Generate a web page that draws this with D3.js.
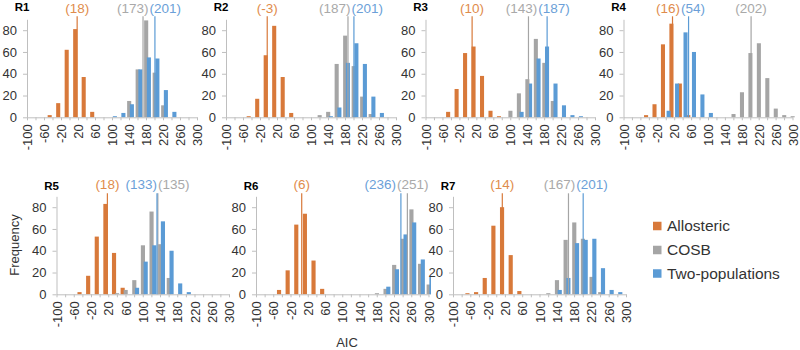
<!DOCTYPE html>
<html>
<head>
<meta charset="utf-8">
<script src="https://cdn.jsdelivr.net/npm/d3@7"></script>
<style>
    body { margin: 0; background: #fff; }
    svg text { font-family: "Liberation Sans", Arial, sans-serif; }
</style>
</head>
<body>
<div id="chart"></div>
<script>
// bins of the AIC histograms (bin centres)
let categories = [-100, -80, -60, -40, -20, 0, 20, 40, 60, 80, 100, 120, 140, 160, 180, 200, 220, 240, 260, 280, 300];
let xTickLabels = [-100, -60, -20, 20, 60, 100, 140, 180, 220, 260, 300];
let yTickLabels = [0, 20, 40, 60, 80];
let panelNames = ["R1", "R2", "R3", "R4", "R5", "R6", "R7"];
let seriesNames = ["Allosteric", "COSB", "Two-populations"];

// frequencies per panel, one value per bin
let allosteric = [
    [0, 0, 0, 2, 13, 62, 81, 37, 5, 0, 0, 0, 0, 0, 0, 0, 0, 0, 0, 0, 0],
    [0, 0, 0, 1, 17, 57, 84, 37, 4, 0, 0, 0, 0, 0, 0, 0, 0, 0, 0, 0, 0],
    [0, 0, 0, 5, 26, 59, 65, 38, 6, 1, 0, 0, 0, 0, 0, 0, 0, 0, 0, 0, 0],
    [0, 0, 0, 2, 12, 67, 86, 31, 2, 0, 0, 0, 0, 0, 0, 0, 0, 0, 0, 0, 0],
    [0, 0, 0, 2, 17, 53, 83, 38, 6, 0, 0, 0, 0, 0, 0, 0, 0, 0, 0, 0, 0],
    [0, 0, 0, 4, 22, 64, 74, 31, 5, 0, 0, 0, 0, 0, 0, 0, 0, 0, 0, 0, 0],
    [0, 0, 1, 2, 15, 63, 80, 36, 3, 0, 0, 0, 0, 0, 0, 0, 0, 0, 0, 0, 0]
];
let cosb = [
    [0, 0, 0, 0, 0, 0, 0, 0, 0, 0, 0, 0, 15, 44, 89, 41, 11, 0, 0, 0, 0],
    [0, 0, 0, 0, 0, 0, 0, 0, 0, 0, 0, 2, 5, 49, 75, 47, 19, 3, 0, 0, 0],
    [0, 0, 0, 0, 0, 0, 0, 0, 0, 0, 6, 22, 35, 72, 50, 15, 0, 0, 0, 0, 0],
    [0, 0, 0, 0, 0, 0, 0, 0, 0, 0, 0, 0, 0, 3, 23, 59, 68, 36, 8, 2, 1],
    [0, 0, 0, 0, 0, 0, 0, 1, 4, 13, 45, 76, 46, 15, 0, 0, 0, 0, 0, 0, 0],
    [0, 0, 0, 0, 0, 0, 0, 0, 0, 0, 0, 0, 0, 0, 1, 5, 27, 51, 78, 28, 9],
    [0, 0, 0, 0, 0, 0, 0, 0, 0, 0, 0, 1, 13, 50, 66, 51, 16, 2, 0, 0, 0]
];
let twoPopulations = [
    [0, 0, 0, 0, 0, 0, 0, 0, 0, 0, 1, 4, 12, 44, 55, 54, 25, 5, 0, 0, 0],
    [0, 0, 0, 0, 0, 0, 0, 0, 0, 0, 0, 0, 1, 9, 50, 68, 49, 19, 4, 0, 0],
    [0, 0, 0, 0, 0, 0, 0, 0, 0, 0, 0, 5, 31, 54, 65, 31, 11, 2, 1, 0, 0],
    [0, 0, 0, 0, 0, 6, 31, 78, 60, 21, 4, 0, 0, 0, 0, 0, 0, 0, 0, 0, 0],
    [0, 0, 0, 0, 0, 0, 0, 0, 0, 6, 30, 45, 67, 40, 10, 2, 0, 0, 0, 0, 0],
    [0, 0, 0, 0, 0, 0, 0, 0, 0, 0, 0, 0, 0, 0, 0, 7, 23, 55, 66, 32, 16],
    [0, 0, 0, 0, 0, 0, 0, 0, 0, 0, 0, 0, 4, 15, 47, 50, 51, 24, 4, 2, 0]
];

// the values marked with a line and a (label) on each panel
let meanAllosteric = [18, -3, 10, 16, 18, 6, 14];
let meanCosb = [173, 187, 143, 202, 135, 251, 167];
let meanTwoPopulations = [201, 201, 187, 54, 133, 236, 201];

// ---- layout / style ----
let width = 800, height = 350;
let colors = ["#d8793a", "#a5a5a5", "#5b9bd5"];
let labelColors = ["#df8c4c", "#a9a9a9", "#6b9fd8"];
let axisColor = "#bfbfbf";
let textColor = "#333";

let rows = [
    {top: 19.3, base: 117.3, title: 10.5, label: 12.5},
    {top: 196.3, base: 294.3, title: 190, label: 188.5}
];
let panelBox = [
    {x0: 27, w: 170, row: 0},
    {x0: 226, w: 170, row: 0},
    {x0: 425.5, w: 169.5, row: 0},
    {x0: 623.5, w: 169, row: 0},
    {x0: 56.5, w: 172.5, row: 1},
    {x0: 256, w: 172.5, row: 1},
    {x0: 453, w: 173, row: 1}
];
let barOffset = [-0.33, 0.02, 0.34];   // in bin widths
let barWidth = 0.48;

let svg = d3.select("#chart").append("svg")
    .attr("width", width)
    .attr("height", height);

let defs = svg.append("defs");

panelNames.forEach(function (name, p) {
    let box = panelBox[p];
    let row = rows[box.row];
    let series = [allosteric[p], cosb[p], twoPopulations[p]];
    let means = [meanAllosteric[p], meanCosb[p], meanTwoPopulations[p]];

    let x = d3.scaleLinear()
        .domain([categories[0], categories[categories.length - 1]])
        .range([box.x0, box.x0 + box.w]);
    let y = d3.scaleLinear()
        .domain([0, 90])
        .range([row.base, row.top]);
    let step = x(categories[1]) - x(categories[0]);

    let g = svg.append("g").attr("class", "panel");

    // bars: clip a little past the last bin like the plot area does
    defs.append("clipPath").attr("id", "clip" + p)
        .append("rect")
        .attr("x", box.x0)
        .attr("y", 0)
        .attr("width", box.w + 2.5)
        .attr("height", row.base + 1);

    let barsG = g.append("g").attr("clip-path", "url(#clip" + p + ")");
    series.forEach(function (values, s) {
        barsG.selectAll(".bar" + s)
            .data(categories.map(function (c, i) { return {c: c, v: values[i]}; })
                .filter(function (d) { return d.v > 0; }))
            .enter().append("rect")
            .attr("class", "bar" + s)
            .attr("x", function (d) { return x(d.c) + (barOffset[s] - barWidth / 2) * step; })
            .attr("width", barWidth * step)
            .attr("y", function (d) { return y(d.v); })
            .attr("height", function (d) { return y(0) - y(d.v); })
            .attr("fill", colors[s]);
    });

    // x axis
    let xAxis = d3.axisBottom(x)
        .tickValues(categories)
        .tickSize(3)
        .tickSizeOuter(0)
        .tickFormat(function (d) { return xTickLabels.indexOf(d) >= 0 ? d : ""; });
    let xg = g.append("g")
        .attr("transform", "translate(0," + row.base + ")")
        .call(xAxis);
    xg.selectAll("text")
        .attr("transform", "rotate(-90)")
        .attr("x", -7)
        .attr("y", 0)
        .attr("dy", "0.35em")
        .style("text-anchor", "end");

    // y axis
    let yAxis = d3.axisLeft(y)
        .tickValues(yTickLabels)
        .tickSize(4)
        .tickSizeOuter(0)
        .tickPadding(6);
    let yg = g.append("g")
        .attr("transform", "translate(" + box.x0 + ",0)")
        .call(yAxis);

    [xg, yg].forEach(function (a) {
        a.select(".domain").attr("stroke", axisColor);
        a.selectAll(".tick line").attr("stroke", axisColor);
        a.selectAll("text")
            .attr("fill", textColor)
            .style("font-size", "13px");
    });

    // mean lines
    means.forEach(function (m, s) {
        g.append("line")
            .attr("x1", x(m)).attr("x2", x(m))
            .attr("y1", row.top - 3).attr("y2", row.base)
            .attr("stroke", colors[s])
            .attr("stroke-width", 1.2);
    });

    // mean labels, pushed apart when they would overlap
    let items = means.map(function (m, s) {
        let t = g.append("text")
            .attr("y", row.label)
            .attr("text-anchor", "middle")
            .attr("fill", labelColors[s])
            .style("font-size", "13.5px")
            .text("(" + m + ")");
        return {t: t, cx: x(m), w: t.node().getComputedTextLength()};
    }).sort(function (a, b) { return a.cx - b.cx; });

    let gap = 1;
    for (let i = 1; i < items.length; i++) {
        let a = items[i - 1], b = items[i];
        let ov = (a.cx + a.w / 2 + gap) - (b.cx - b.w / 2);
        if (ov > 0) { a.cx -= ov / 2; b.cx += ov / 2; }
    }
    let last = items[items.length - 1];
    let extra = last.cx + last.w / 2 - (box.x0 + box.w);
    if (extra > 0) {
        last.cx -= extra;
        for (let i = items.length - 2; i >= 0; i--) {
            let a = items[i], b = items[i + 1];
            let ov = (a.cx + a.w / 2 + gap) - (b.cx - b.w / 2);
            if (ov > 0) a.cx -= ov;
        }
    }
    items.forEach(function (d) { d.t.attr("x", d.cx); });

    // panel title
    g.append("text")
        .attr("x", box.x0 - 5)
        .attr("y", row.title)
        .attr("text-anchor", "middle")
        .attr("fill", "#000")
        .style("font-size", "11.5px")
        .style("font-weight", "bold")
        .text(name);
});

// axis titles
svg.append("text")
    .attr("transform", "translate(14,245) rotate(-90)")
    .attr("text-anchor", "middle")
    .attr("dy", "0.35em")
    .attr("fill", textColor)
    .style("font-size", "13px")
    .text("Frequency");

svg.append("text")
    .attr("x", 347)
    .attr("y", 346.5)
    .attr("text-anchor", "middle")
    .attr("fill", textColor)
    .style("font-size", "13px")
    .text("AIC");

// legend
let legendY = [226, 250, 273.5];
let legend = svg.append("g").attr("class", "legend");
seriesNames.forEach(function (n, i) {
    legend.append("rect")
        .attr("x", 653)
        .attr("y", legendY[i] - 4.25)
        .attr("width", 8.5)
        .attr("height", 8.5)
        .attr("fill", colors[i]);
    legend.append("text")
        .attr("x", 667)
        .attr("y", legendY[i])
        .attr("dy", "0.35em")
        .attr("fill", textColor)
        .style("font-size", "15.5px")
        .text(n);
});
</script>
</body>
</html>
